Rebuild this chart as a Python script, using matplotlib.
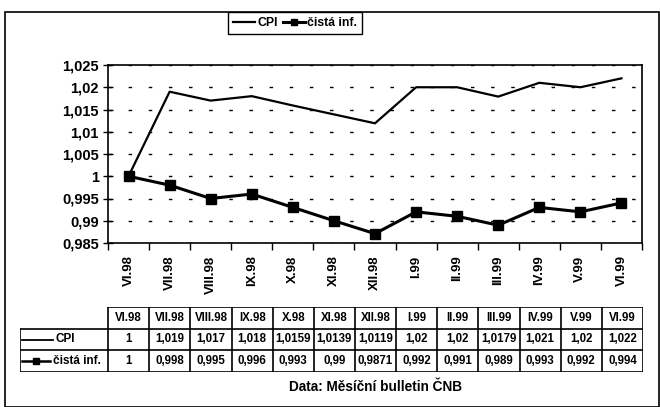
import matplotlib
matplotlib.use("Agg")
import matplotlib.pyplot as plt
from matplotlib.ticker import MultipleLocator, FuncFormatter
from matplotlib.patches import Rectangle

plt.rcParams['font.family'] = ['Liberation Sans', 'DejaVu Sans']
plt.rcParams['font.weight'] = 'bold'

# data
months = ["VI.98", "VII.98", "VIII.98", "IX.98", "X.98", "XI.98", "XII.98",
          "I.99", "II.99", "III.99", "IV.99", "V.99", "VI.99"]
cpi = [1, 1.019, 1.017, 1.018, 1.0159, 1.0139, 1.0119,
       1.02, 1.02, 1.0179, 1.021, 1.02, 1.022]
cista = [1, 0.998, 0.995, 0.996, 0.993, 0.99, 0.9871,
         0.992, 0.991, 0.989, 0.993, 0.992, 0.994]
names = ["CPI", "čistá inf."]
source = "Data: Měsíční bulletin ČNB"

W, H = 660, 407


def fx(px):
    return px / W


def fy(py):
    return 1 - py / H


def comma(v):
    return f"{v:g}".replace(".", ",")


fig = plt.figure(figsize=(6.6, 4.07), dpi=100)

# outer frame
fig.patches.append(Rectangle((fx(5), 0), fx(654), fy(12), transform=fig.transFigure,
                             fill=False, edgecolor="black", lw=1.2))

# plot area
ax = fig.add_axes([fx(108), fy(243), fx(642 - 108), fy(65) - fy(243)])
x = list(range(len(months)))
ln1, = ax.plot(x, cpi, color="black", lw=1.6)
ln2, = ax.plot(x, cista, color="black", lw=2.2, marker="s", markersize=6.5)

ax.set_xlim(-0.5, len(months) - 0.5)
ax.set_ylim(0.985, 1.025)
ax.yaxis.set_major_locator(MultipleLocator(0.005))
ax.yaxis.set_major_formatter(FuncFormatter(lambda v, p: comma(round(v, 4))))
ax.yaxis.grid(True, linestyle=(0, (2.5, 12)), color="black", lw=1)
ax.tick_params(axis="y", direction="inout", length=7, width=1, labelsize=10.5, pad=3)

ax.set_xticks(x)
ax.set_xticklabels(months, rotation=90, fontsize=9.5, fontweight="bold")
ax.set_xticks([i - 0.5 for i in range(len(months) + 1)], minor=True)
ax.tick_params(axis="x", which="major", length=0, pad=9)
ax.tick_params(axis="x", which="minor", direction="out", length=5, width=1)
for s in ax.spines.values():
    s.set_linewidth(1.2)

# legend
leg = fig.legend([ln1, ln2], names, loc="upper center", bbox_to_anchor=(fx(295), fy(12)),
                 ncol=2, fontsize=8.8, frameon=True, fancybox=False, edgecolor="black",
                 framealpha=1, handlelength=1.8, handletextpad=0.2, columnspacing=0.4,
                 borderpad=0.4, borderaxespad=0, markerscale=0.7)
leg.get_frame().set_linewidth(1)

# data table
unit = (642 - 108) / len(months)
lab_w = (108 - 20) / unit
ta = fig.add_axes([fx(20), fy(372), fx(643 - 20), fy(307) - fy(372)])
ta.set_xlim(-0.5 - lab_w, len(months) - 0.5)
ta.set_ylim(3, 0)
ta.axis("off")
left = -0.5 - lab_w
right = len(months) - 0.5
ta.plot([-0.5, right], [0, 0], color="black", lw=1.2)
for yy in (1, 2, 3):
    ta.plot([left, right], [yy, yy], color="black", lw=1.2)
ta.plot([left, left], [1, 3], color="black", lw=1.2)
for i in range(len(months) + 1):
    ta.plot([i - 0.5, i - 0.5], [0, 3], color="black", lw=1.2)

for i, m in enumerate(months):
    ta.text(i, 0.5, m, ha="center", va="center", fontsize=8.3)
    ta.text(i, 1.5, comma(cpi[i]), ha="center", va="center", fontsize=8.3)
    ta.text(i, 2.5, comma(cista[i]), ha="center", va="center", fontsize=8.3)

x0 = left + 0.05
ta.plot([x0, x0 + 0.75], [1.5, 1.5], color="black", lw=1.3)
ta.text(x0 + 0.82, 1.5, names[0], ha="left", va="center", fontsize=8.5)
ta.plot([x0, x0 + 0.68], [2.5, 2.5], color="black", lw=1.8)
ta.plot([x0 + 0.34], [2.5], color="black", marker="s", markersize=5)
ta.text(x0 + 0.74, 2.5, names[1], ha="left", va="center", fontsize=8.5)

fig.text(fx(376), fy(387), source, ha="center", va="center", fontsize=9.8)

fig.savefig("out.png", dpi=100)
